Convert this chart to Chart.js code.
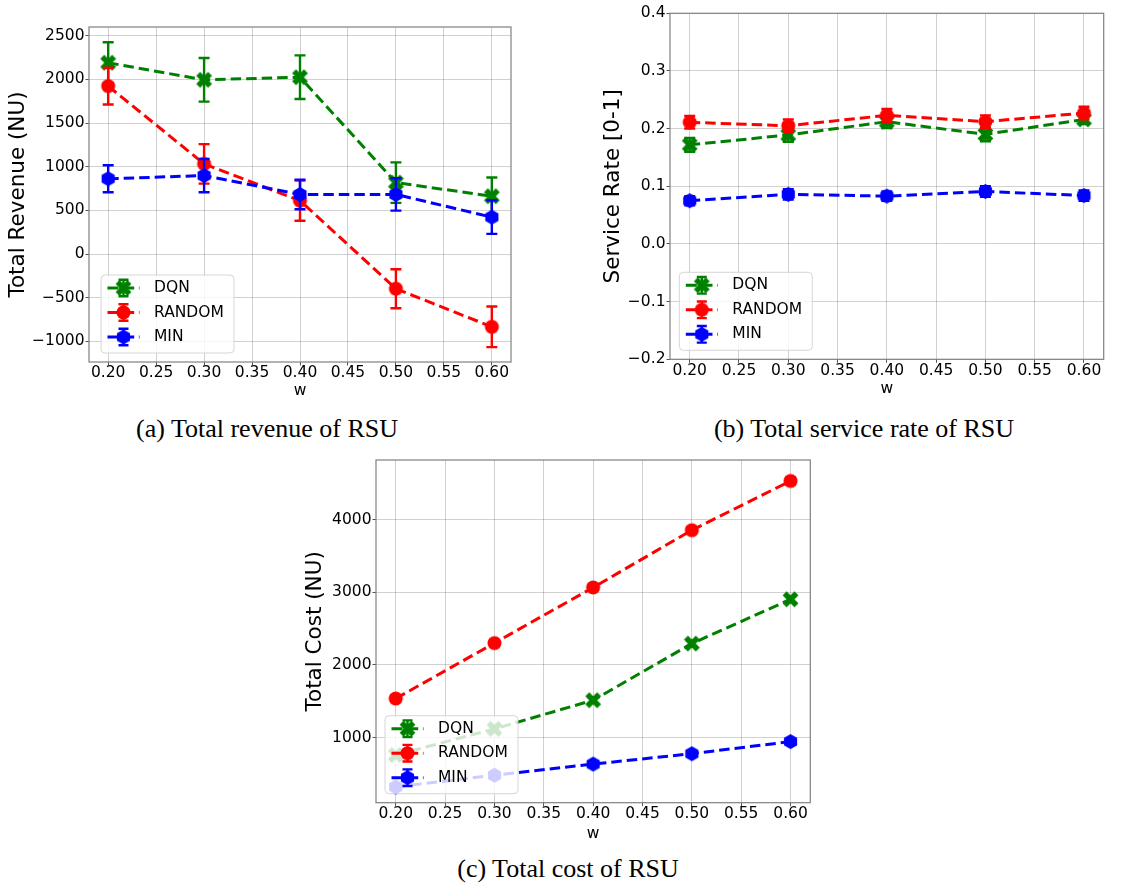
<!DOCTYPE html>
<html>
<head>
<meta charset="utf-8">
<script src="https://cdn.jsdelivr.net/npm/chart.js@4.4.1/dist/chart.umd.min.js"></script>
<style>
body { margin: 0; background: #fff; width: 1133px; height: 892px; position: relative; overflow: hidden; }
canvas { position: absolute; }
.cap { position: absolute; width: 400px; text-align: center; font-family: 'Liberation Serif', 'Times New Roman', serif; font-size: 26px; line-height: 26px; color: #000; }
</style>
</head>
<body>
<canvas id="revenueChart" width="540" height="410" style="left:0;top:0"></canvas>
<canvas id="rateChart" width="543" height="410" style="left:590px;top:0"></canvas>
<canvas id="costChart" width="540" height="400" style="left:300px;top:450px"></canvas>
<div class="cap" style="left:67px;top:416px">(a) Total revenue of RSU</div>
<div class="cap" style="left:664px;top:416px">(b) Total service rate of RSU</div>
<div class="cap" style="left:368px;top:856px">(c) Total cost of RSU</div>
<script>
// x values and the tick marks shared by all three plots
const wValues = [0.2, 0.3, 0.4, 0.5, 0.6];
const wTicks = [0.20, 0.25, 0.30, 0.35, 0.40, 0.45, 0.50, 0.55, 0.60];
const seriesNames = ["DQN", "RANDOM", "MIN"];
const seriesColors = ["#008000", "#ff0000", "#0000ff"];

// (a) total revenue
const revenueDqn = [2190, 1995, 2025, 818, 662];
const revenueDqnErr = [235, 250, 250, 232, 215];
const revenueRandom = [1923, 1032, 611, -398, -834];
const revenueRandomErr = [210, 226, 230, 223, 233];
const revenueMin = [862, 898, 682, 682, 422];
const revenueMinErr = [155, 190, 170, 185, 192];
const revenueTicks = [-1000, -500, 0, 500, 1000, 1500, 2000, 2500];

// (b) service rate
const rateDqn = [0.172, 0.189, 0.212, 0.190, 0.216];
const rateDqnErr = [0.012, 0.012, 0.011, 0.012, 0.008];
const rateRandom = [0.211, 0.205, 0.223, 0.212, 0.227];
const rateRandomErr = [0.011, 0.011, 0.011, 0.011, 0.011];
const rateMin = [0.075, 0.086, 0.083, 0.091, 0.084];
const rateMinErr = [0.008, 0.009, 0.008, 0.009, 0.009];
const rateTicks = [-0.2, -0.1, 0.0, 0.1, 0.2, 0.3, 0.4];

// (c) total cost
const costDqn = [760, 1120, 1515, 2295, 2905];
const costDqnErr = [40, 40, 40, 40, 40];
const costRandom = [1538, 2302, 3068, 3857, 4535];
const costRandomErr = [40, 40, 40, 40, 45];
const costMin = [320, 482, 635, 778, 945];
const costMinErr = [30, 30, 30, 30, 30];
const costTicks = [1000, 2000, 3000, 4000];

// marker images, drawn once (X, circle, hexagon like matplotlib)
function makeMarker(shape, color) {
  const c = document.createElement("canvas");
  c.width = 19; c.height = 19;
  const g = c.getContext("2d");
  const m = 9.5;
  g.fillStyle = color;
  g.beginPath();
  if (shape === "circle") {
    g.arc(m, m, 7, 0, Math.PI * 2);
  } else if (shape === "hex") {
    for (let k = 0; k < 6; k++) {
      const ang = (-90 + 60 * k) * Math.PI / 180;
      g.lineTo(m + 7.6 * Math.cos(ang), m + 7.6 * Math.sin(ang));
    }
    g.closePath();
  } else {
    const r = 8.4, a = 2.8;
    const pts = [[a, r], [a, a], [r, a], [r, -a], [a, -a], [a, -r], [-a, -r], [-a, -a], [-r, -a], [-r, a], [-a, a], [-a, r]];
    const cs = Math.cos(Math.PI / 4), sn = Math.sin(Math.PI / 4);
    pts.forEach(p => g.lineTo(m + p[0] * cs - p[1] * sn, m + p[0] * sn + p[1] * cs));
    g.closePath();
  }
  g.fill();
  return c;
}
const markers = [makeMarker("x", seriesColors[0]), makeMarker("circle", seriesColors[1]), makeMarker("hex", seriesColors[2])];

const errorBars = {
  id: "errorBars",
  beforeDatasetDraw(chart, args) {
    const ds = chart.data.datasets[args.index];
    const xs = chart.scales.x, ys = chart.scales.y, ctx = chart.ctx;
    ctx.save();
    ctx.strokeStyle = ds.borderColor;
    ctx.lineWidth = 2.4;
    ds.data.forEach((p, i) => {
      const x = xs.getPixelForValue(p.x);
      const top = ys.getPixelForValue(p.y + ds.errors[i]);
      const bot = ys.getPixelForValue(p.y - ds.errors[i]);
      ctx.beginPath();
      ctx.moveTo(x, top); ctx.lineTo(x, bot);
      ctx.moveTo(x - 5.5, top); ctx.lineTo(x + 5.5, top);
      ctx.moveTo(x - 5.5, bot); ctx.lineTo(x + 5.5, bot);
      ctx.stroke();
    });
    ctx.restore();
  }
};

// axes frame + matplotlib style legend in the lower left
const frameLegend = {
  id: "frameLegend",
  afterDraw(chart, args, opts) {
    const ctx = chart.ctx, a = chart.chartArea;
    ctx.save();
    ctx.strokeStyle = "#808080";
    ctx.lineWidth = 1.2;
    ctx.strokeRect(a.left, a.top, a.right - a.left, a.bottom - a.top);
    const bw = 133, bh = 78;
    const bx = a.left + opts.left, by = a.bottom - opts.bottom - bh;
    ctx.beginPath();
    ctx.roundRect(bx, by, bw, bh, 4);
    ctx.fillStyle = "rgba(255,255,255,0.8)";
    ctx.fill();
    ctx.strokeStyle = "rgba(204,204,204,0.8)";
    ctx.lineWidth = 1;
    ctx.stroke();
    chart.data.datasets.forEach((ds, i) => {
      const cy = by + 13 + i * 24.5, cx = bx + 22.5;
      ctx.strokeStyle = ds.borderColor;
      ctx.lineWidth = 3;
      ctx.setLineDash([11, 4.7]);
      ctx.beginPath(); ctx.moveTo(bx + 6.5, cy); ctx.lineTo(bx + 38.5, cy); ctx.stroke();
      ctx.setLineDash([]);
      ctx.lineWidth = 2.4;
      ctx.beginPath();
      ctx.moveTo(cx, cy - 8.3); ctx.lineTo(cx, cy + 8.3);
      ctx.moveTo(cx - 5, cy - 8.3); ctx.lineTo(cx + 5, cy - 8.3);
      ctx.moveTo(cx - 5, cy + 8.3); ctx.lineTo(cx + 5, cy + 8.3);
      ctx.stroke();
      const img = ds.pointStyle;
      ctx.drawImage(img, cx - img.width / 2, cy - img.height / 2);
      ctx.fillStyle = "#000";
      ctx.font = '15.5px "DejaVu Sans"';
      ctx.textBaseline = "middle";
      ctx.textAlign = "left";
      ctx.fillText(ds.label, bx + 53, cy);
    });
    ctx.restore();
  }
};

const tickFont = { family: "DejaVu Sans", size: 15.5, lineHeight: 1 };
const gridStyle = { color: "rgba(0,0,0,0.18)", lineWidth: 1, tickColor: "#555", tickLength: 3.5 };
const minus = s => s.replace("-", "\u2212");

function makeChart(id, c) {
  const datasets = c.values.map((vals, i) => ({
    label: seriesNames[i],
    data: wValues.map((w, j) => ({ x: w, y: vals[j] })),
    errors: c.errors[i],
    borderColor: seriesColors[i],
    backgroundColor: seriesColors[i],
    borderWidth: 3,
    borderDash: [10.5, 5],
    pointStyle: markers[i],
    pointRadius: 7,
    order: 3 - i,
    fill: false,
    tension: 0
  }));
  return new Chart(id, {
    type: "line",
    data: { datasets: datasets },
    plugins: [errorBars, frameLegend],
    options: {
      responsive: false,
      animation: false,
      layout: { padding: { left: 0, top: c.top, right: c.right, bottom: 0 } },
      plugins: {
        legend: { display: false },
        tooltip: { enabled: false },
        frameLegend: { left: c.legendLeft, bottom: 9 }
      },
      scales: {
        x: {
          type: "linear", min: 0.18, max: 0.62,
          afterBuildTicks: s => { s.ticks = wTicks.map(v => ({ value: v })); },
          afterFit: s => { s.height = c.xHeight; },
          ticks: { font: tickFont, color: "#000", padding: 0, autoSkip: false, maxRotation: 0, callback: v => v.toFixed(2) },
          grid: gridStyle,
          border: { display: false },
          title: { display: true, text: "w", color: "#000", font: { family: "DejaVu Sans", size: 15.5 }, padding: { top: 0, bottom: c.wPad } }
        },
        y: {
          type: "linear", min: c.yMin, max: c.yMax,
          afterBuildTicks: s => { s.ticks = c.yTicks.map(v => ({ value: v })); },
          afterFit: s => { s.width = c.yWidth; },
          ticks: { font: tickFont, color: "#000", padding: 1, callback: c.fmt },
          grid: gridStyle,
          border: { display: false },
          title: { display: true, text: c.yTitle, color: "#000", font: { family: "DejaVu Sans", size: 21.5 }, padding: { top: c.yPad, bottom: 0 } }
        }
      }
    }
  });
}

makeChart("revenueChart", {
  values: [revenueDqn, revenueRandom, revenueMin],
  errors: [revenueDqnErr, revenueRandomErr, revenueMinErr],
  yTicks: revenueTicks, yMin: -1237, yMax: 2600,
  fmt: v => minus(String(v)),
  yTitle: "Total Revenue (NU)",
  top: 27, right: 29, xHeight: 48, yWidth: 89, wPad: 9.4, yPad: 5.4, legendLeft: 12
});

makeChart("rateChart", {
  values: [rateDqn, rateRandom, rateMin],
  errors: [rateDqnErr, rateRandomErr, rateMinErr],
  yTicks: rateTicks, yMin: -0.2, yMax: 0.4,
  fmt: v => minus(v.toFixed(1)),
  yTitle: "Service Rate [0-1]",
  top: 13.3, right: 29.3, xHeight: 50.7, yWidth: 80, wPad: 11.3, yPad: 10.4, legendLeft: 9.3
});

makeChart("costChart", {
  values: [costDqn, costRandom, costMin],
  errors: [costDqnErr, costRandomErr, costMinErr],
  yTicks: costTicks, yMin: 103, yMax: 4824,
  fmt: v => String(v),
  yTitle: "Total Cost (NU)",
  top: 3.3, right: 29.7, xHeight: 47.3, yWidth: 76, wPad: 6.3, yPad: 2.8, legendLeft: 9
});
</script>
</body>
</html>
